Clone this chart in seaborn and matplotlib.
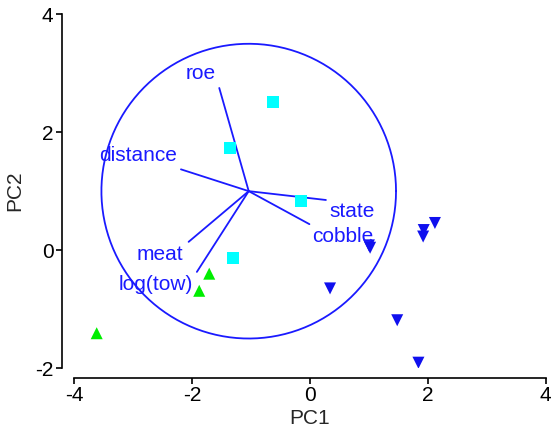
import numpy as np
import pandas as pd
import matplotlib
matplotlib.use("Agg")
import matplotlib.pyplot as plt
import seaborn as sns

# Sample scores on the first two principal components
pc1_a = [-0.63, -1.36, -0.16, -1.31]
pc2_a = [2.51, 1.74, 0.84, -0.13]
pc1_b = [-1.71, -1.88, -3.62]
pc2_b = [-0.40, -0.69, -1.41]
pc1_c = [0.34, 1.00, 1.02, 1.93, 1.92, 2.12, 1.48, 1.84]
pc2_c = [-0.65, 0.08, 0.04, 0.34, 0.23, 0.46, -1.19, -1.91]

# Variable loadings (arrow tips), arrow origin and circle of equilibrium
variables = ["roe", "distance", "state", "cobble", "meat", "log(tow)"]
load_x = [-1.54, -2.19, 0.27, -0.01, -2.06, -1.92]
load_y = [2.75, 1.37, 0.85, 0.44, 0.14, -0.37]
label_x = [-1.86, -2.92, 0.72, 0.56, -2.54, -2.61]
label_y = [3.00, 1.61, 0.65, 0.23, -0.07, -0.58]
origin = (-1.04, 1.00)
radius = 2.5

x_ticks = [-4, -2, 0, 2, 4]
y_ticks = [-2, 0, 2, 4]

df = pd.DataFrame({
    "PC1": pc1_a + pc1_b + pc1_c,
    "PC2": pc2_a + pc2_b + pc2_c,
    "group": ["a"] * len(pc1_a) + ["b"] * len(pc1_b) + ["c"] * len(pc1_c),
})

sns.set_style("white")
plt.rcParams["font.family"] = ["Liberation Sans", "DejaVu Sans"]
plt.rcParams["axes.unicode_minus"] = False

W, H = 553, 430
fig = plt.figure(figsize=(W / 100, H / 100), dpi=100)
ax = fig.add_axes([74.3 / W, (H - 368) / H, 471.4 / W, 353.7 / H])

blue = "#1a1aff"
palette = {"a": "#00ffff", "b": "#00ee00", "c": "#1010ee"}
markers = {"a": "s", "b": "^", "c": "v"}
sns.scatterplot(data=df, x="PC1", y="PC2", hue="group", style="group",
                palette=palette, markers=markers, s=75, linewidth=0,
                legend=False, ax=ax, zorder=3)

# Loading arrows and labels
for name, lx, ly, tx, ty in zip(variables, load_x, load_y, label_x, label_y):
    ax.plot([origin[0], lx], [origin[1], ly], color=blue, lw=1.3, zorder=2)
    ax.text(tx, ty, name, color=blue, fontsize=15, ha="center", va="center",
            zorder=4)

# Equilibrium circle
theta = np.linspace(0, 2 * np.pi, 400)
ax.plot(origin[0] + radius * np.cos(theta), origin[1] + radius * np.sin(theta),
        color=blue, lw=1.3, zorder=2)

ax.set_xlim(-4, 4)
ax.set_ylim(-2, 4)
ax.set_xticks(x_ticks)
ax.set_yticks(y_ticks)
ax.set_xlabel("PC1", fontsize=15, labelpad=3)
ax.set_ylabel("PC2", fontsize=15, labelpad=8)

for side in ("top", "right"):
    ax.spines[side].set_visible(False)
ax.spines["left"].set_position(("outward", 9))
ax.spines["bottom"].set_position(("outward", 7))
for side in ("left", "bottom"):
    ax.spines[side].set_color("black")
    ax.spines[side].set_linewidth(1.2)
ax.tick_params(axis="both", which="major", direction="out", length=4,
               width=1.2, color="black", labelsize=15, labelcolor="black",
               left=True, bottom=True, pad=2)

fig.savefig("out.png", dpi=100, facecolor="white")
